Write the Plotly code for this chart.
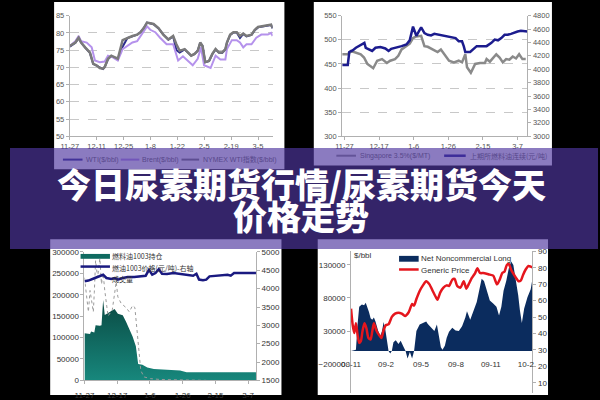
import plotly.graph_objects as go

# ---------------- DATA ----------------
# Panel 1 (top-left): crude prices, x = days after 11-27
p1_tick_days = [0, 14, 28, 42, 56, 70, 84, 98]
p1_tick_text = ["11-27", "12-11", "12-25", "1-8", "1-22", "2-5", "2-19", "3-5"]
p1_days = [0, 2.9, 4.6, 5.9, 8, 10.5, 12.2, 13.9, 15.6, 17.3, 18.2, 19.9, 21.6, 23.3, 25, 27.5, 30, 32.6, 35.1, 36.8,
           38.5, 40.2, 41.9, 43.6, 46.2, 48.7, 51.3, 53.8, 55.5, 57.2, 59.8, 61.5, 63.2, 64.9, 66.6, 67.9, 69.1, 70.5, 72.5, 74.2,
           75.9, 77.6, 79.3, 81, 81.8, 83.5, 85.2, 86.9, 88.6, 90.3, 92, 94.6, 96.3, 98, 100.5, 103, 104.8, 105.6]
p1_nymex = [76.2, 77.2, 78.6, 77.2, 75.8, 74.3, 71.0, 70.6, 69.8, 69.6, 70.1, 72.5, 73.4, 72.9, 72.5, 77.9, 78.6, 79.1, 79.5, 80.2,
            81.4, 83.0, 82.8, 82.6, 81.4, 79.5, 78.1, 79.1, 76.7, 74.8, 75.3, 74.3, 73.4, 73.9, 74.8, 77.2, 76.2, 71.5, 71.9, 73.9,
            75.3, 74.3, 74.3, 75.3, 77.2, 79.5, 80.2, 80.2, 79.1, 79.8, 79.1, 79.5, 80.9, 81.7, 81.9, 82.1, 82.4, 81.4]
p1_wti = [76.0, 77.1, 78.5, 77.2, 75.7, 74.2, 71.0, 70.5, 69.8, 69.5, 70.1, 72.4, 73.3, 72.9, 72.3, 76.0, 78.5, 79.0, 79.5, 80.2,
          81.3, 83.0, 82.7, 82.5, 81.3, 79.5, 78.0, 79.0, 75.0, 74.3, 75.2, 74.2, 73.4, 73.8, 74.8, 77.1, 76.2, 71.5, 71.8, 73.8,
          75.2, 74.3, 74.2, 75.2, 77.1, 79.4, 80.1, 80.1, 78.5, 79.7, 79.0, 79.4, 80.8, 81.6, 81.8, 82.0, 82.3, 81.3]
p1_brent_days = [0, 2.9, 4.6, 5.9, 8.8, 11.4, 13.1, 15.6, 18.2, 19.9, 22.4, 25, 27.5, 30.1, 32.6, 35.1, 36.8, 38.5, 40.2, 41.9,
                 44.5, 47, 50.4, 53.8, 56.4, 58.9, 61.5, 64, 66.6, 68.3, 69.9, 73.3, 75.9, 78.4, 81, 81.8, 84.4, 86.9, 88.6, 90.3,
                 92, 94.6, 97.1, 99.7, 103.1, 104.8, 105.6]
p1_brent = [76.2, 77.6, 79.1, 77.6, 77.2, 75.8, 72.0, 71.5, 71.7, 73.4, 72.9, 72.0, 75.3, 76.2, 77.2, 77.6, 79.1, 80.5, 81.9, 80.9,
            80.2, 78.6, 76.7, 76.7, 72.0, 73.2, 72.0, 70.6, 72.5, 75.8, 70.6, 69.8, 73.4, 72.3, 72.3, 75.3, 77.9, 77.9, 77.2, 75.8,
            76.7, 76.7, 78.6, 79.5, 79.5, 80.0, 79.1]

# Panel 2 (top-right): fuel oil, x = days after 11-27
p2_tick_days = [0, 20, 40, 60, 80, 100]
p2_tick_text = ["11-27", "12-17", "1-6", "1-26", "2-15", "3-7"]
p2_sh_days = [-1.3, 1.9, 2.8, 4.7, 6.6, 8.5, 10.4, 11.5, 12.3, 14.2, 16.0, 17.9, 20.8, 23.6, 25.5, 27.0, 30.2, 33.0, 35.8, 37.7,
              39.6, 41.5, 44.3, 46.2, 48.1, 50.0, 51.9, 53.8, 56.6, 59.4, 62.3, 64.2, 66.0, 67.9, 68.9, 69.8, 72.6, 74.5, 76.4, 79.2,
              82.1, 84.9, 86.8, 88.7, 90.6, 92.5, 94.3, 96.2, 98.1, 100.0, 101.9, 103.8, 105.7]
p2_shanghai = [4065, 4065, 4258, 4282, 4321, 4345, 4369, 4394, 4321, 4297, 4273, 4321, 4331, 4311, 4273, 4306, 4321, 4345, 4369, 4432,
               4636, 4500, 4626, 4539, 4515, 4505, 4529, 4519, 4500, 4481, 4466, 4466, 4418, 4418, 4345, 4258, 4258, 4297, 4345, 4345,
               4345, 4394, 4442, 4432, 4466, 4515, 4515, 4529, 4548, 4563, 4573, 4563, 4563]
p2_sg_days = [-1.3, 1.9, 3.8, 5.7, 7.5, 9.4, 11.3, 13.2, 15.1, 16.6, 18.9, 21.7, 24.5, 26.4, 29.2, 31.1, 33.0, 35.8, 37.7, 39.6,
              41.5, 44.3, 46.2, 48.1, 50.9, 53.8, 55.7, 57.5, 60.4, 63.2, 66.0, 67.9, 69.8, 70.8, 73.0, 75.5, 78.3, 81.1, 82.1, 84.0,
              85.8, 87.7, 89.6, 91.5, 93.4, 95.3, 97.2, 99.1, 100.9, 102.8, 104.7]
p2_singapore = [470, 470, 476.7, 474.7, 472, 470, 463.3, 450, 445, 441, 456.6, 460, 452, 456.6, 460, 466.7, 480, 488, 492, 503.6,
                507, 508.3, 486.8, 485.5, 480, 474.7, 480, 470, 456.6, 453.2, 456.6, 453.2, 470, 443.1, 431.7, 450, 452, 452, 460, 454.6,
                463.3, 470, 463.3, 453.2, 460, 458.6, 465.3, 461.3, 470, 460, 460]

# Panel 3 (bottom-left): fuel oil 1003 open interest / price / volume
p3_tick_days = [0, 20, 40, 60, 80, 100]
p3_tick_text = ["11-27", "12-17", "1-6", "1-26", "2-15", "3-7"]
p3_oi_days = [0, 3.4, 4.0, 6.0, 6.8, 9.4, 10.4, 11.4, 12.4, 14.4, 16.4, 18.4, 20.4, 23.4, 25.4, 27.4, 29.4, 31.4, 32.8, 35.4,
              38.4, 42.4, 48.4, 54.4, 58.4, 62.4, 66.4, 74.4, 104.8]
p3_open_interest = [110000, 108600, 114000, 112000, 129000, 127600, 129000, 188000, 153000, 158000, 163000, 167000, 155700, 152000,
                    136700, 121500, 102500, 80000, 38000, 36500, 30000, 26600, 25000, 24300, 22800, 19000, 19000, 19000, 19000]
p3_px_days = [0, 2.4, 6.4, 9.4, 11.4, 13.4, 16.4, 18.4, 20.4, 23.4, 26.4, 30.4, 34.4, 37.4, 39.4, 41.4, 43.4, 45.4, 47.4, 50.4,
              54.4, 58.4, 63.4, 66.4, 68.4, 70.0, 72.4, 74.4, 76.4, 80.4, 84.4, 87.4, 89.4, 91.4, 94.4, 104.8]
p3_price = [4202, 4220, 4291, 4335, 4380, 4291, 4264, 4291, 4247, 4291, 4318, 4318, 4335, 4353, 4513, 4380, 4424, 4530, 4406, 4397,
            4424, 4406, 4380, 4353, 4406, 4247, 4229, 4247, 4335, 4353, 4353, 4380, 4353, 4424, 4424, 4424]
p3_vol_days = [0, 1.4, 2.4, 3.4, 4.4, 5.4, 6.0, 6.8, 8.0, 9.4, 10.4, 11.4, 12.4, 14.4, 17.0, 19.4, 20.4, 22.4, 25.4, 27.4,
               29.4, 30.8, 32.4, 34.4, 36.4, 40.4, 46.4, 54.4, 66.4, 74.4]
p3_volume = [240000, 200000, 160000, 210000, 185000, 160000, 205000, 280000, 240000, 285000, 225000, 250000, 210000, 150000,
             165000, 230000, 195000, 180000, 170000, 160000, 175000, 170000, 105000, 23000, 8000, 4000, 2000, 1500, 0, 0]

# Panel 4 (bottom-right): net noncommercial long vs generic price, x = months after 2008-11
p4_tick_months = [0, 3, 6, 9, 12, 15]
p4_tick_text = ["08-11", "09-2", "09-5", "09-8", "09-11", "10-2"]
p4_net_months = [0, 0.42, 0.56, 0.70, 0.93, 1.12, 1.26, 1.40, 1.54, 1.68, 1.82, 1.96, 2.10, 2.33, 2.52, 2.66, 2.80, 2.94, 3.08, 3.22,
                 3.36, 3.50, 3.64, 3.84, 4.07, 4.26, 4.49, 4.68, 4.85, 5.05, 5.24, 5.41, 5.61, 5.89, 6.17, 6.45, 6.59, 6.87, 7.15, 7.37,
                 7.57, 7.71, 7.85, 8.05, 8.21, 8.41, 8.69, 8.97, 9.25, 9.53, 9.81, 9.95, 10.23, 10.51, 10.79, 11.02, 11.21, 11.41, 11.63, 11.91,
                 12.20, 12.48, 12.70, 12.90, 13.09, 13.32, 13.54, 13.74, 13.93, 14.16, 14.35, 14.49, 14.66, 14.86, 15.14, 15.42, 15.56]
p4_net_long = [0, 1700, 40000, 66600, 70000, 69000, 73000, 66600, 59000, 49500, 47000, 50500, 44600, 30000, 22700, 30000, 43700, 32400, 17800, 0,
               -4000, 0, 13000, 16300, 10500, 15400, 6600, 0, -11500, -1700, -11500, 0, 30000, 39800, 42200, 44600, 40700, 34900, 30000, 39800,
               17800, 5600, 1700, 8000, 20000, 29000, 34900, 31000, 30000, 37300, 50500, 60000, 47000, 61700, 73900, 93400, 109000, 105600, 91000, 76400,
               71500, 66600, 53400, 66600, 91000, 105600, 125000, 135000, 130000, 108000, 83700, 61700, 42200, 64000, 81000, 93400, 108000]
p4_px_months = [0, 0.14, 0.28, 0.42, 0.56, 0.70, 0.84, 0.98, 1.15, 1.32, 1.49, 1.68, 1.82, 1.96, 2.16, 2.38, 2.61, 2.80, 3.00, 3.22,
                3.50, 3.78, 4.07, 4.35, 4.63, 4.96, 5.24, 5.41, 5.61, 5.89, 6.17, 6.45, 6.73, 7.01, 7.29, 7.43, 7.65, 7.93, 8.21, 8.41,
                8.69, 8.89, 9.11, 9.39, 9.67, 9.90, 10.09, 10.37, 10.65, 10.85, 11.07, 11.35, 11.63, 11.91, 12.20, 12.53, 12.76, 12.98, 13.18, 13.37,
                13.54, 13.74, 13.93, 14.16, 14.38, 14.58, 14.77, 15.00, 15.22, 15.42, 15.56]
p4_generic_price = [55.1, 45.2, 40.3, 46.2, 39.3, 34.3, 35.3, 41.3, 46.2, 43.2, 37.3, 36.3, 41.3, 46.2, 42.2, 39.3, 37.3, 42.2, 45.2, 45.6,
                    50.1, 52.1, 52.7, 52.1, 50.7, 53.1, 58.0, 57.0, 61.0, 65.9, 69.3, 71.8, 69.9, 65.9, 62.0, 60.6, 64.9, 67.9, 69.3, 68.9,
                    72.8, 73.2, 68.9, 67.9, 71.8, 67.3, 69.9, 73.8, 76.8, 79.7, 76.8, 76.8, 76.4, 75.8, 75.2, 69.9, 72.8, 76.8, 77.8, 81.7,
                    82.3, 78.8, 76.4, 73.8, 71.8, 72.4, 75.8, 79.1, 81.1, 80.7, 80.3]

title_line1 = "今日尿素期货行情/尿素期货今天"
title_line2 = "价格走势"

# ---------------- helpers (pixel -> paper) ----------------
W, H = 600, 400
def px(x):
    return x / W
def py(y):
    return 1 - y / H

LAT = "Liberation Sans, Arial, sans-serif"
CJK = "Noto Sans CJK SC, sans-serif"

fig = go.Figure()

# Panel 1 traces
fig.add_trace(go.Scatter(x=p1_days, y=p1_wti, mode="lines", line=dict(color="#2b2b8c", width=2), xaxis="x", yaxis="y"))
fig.add_trace(go.Scatter(x=p1_brent_days, y=p1_brent, mode="lines", line=dict(color="#b592ec", width=2), xaxis="x", yaxis="y"))
fig.add_trace(go.Scatter(x=p1_days, y=p1_nymex, mode="lines", line=dict(color="#7a7a7a", width=2.5), xaxis="x", yaxis="y"))

# Panel 2 traces
fig.add_trace(go.Scatter(x=p2_sg_days, y=p2_singapore, mode="lines", line=dict(color="#8a8a8a", width=2.5), xaxis="x2", yaxis="y2"))
fig.add_trace(go.Scatter(x=p2_sh_days, y=p2_shanghai, mode="lines", line=dict(color="#1c1c8e", width=2.5), xaxis="x2", yaxis="y3"))

# Panel 3 traces
fig.add_trace(go.Scatter(x=p3_oi_days, y=p3_open_interest, mode="lines", line=dict(width=0, color="#137a70"), fill="tozeroy",
                         fillgradient=dict(type="vertical", colorscale=[[0, "#188a7f"], [1, "#0a4a43"]], start=0, stop=190000),
                         xaxis="x3", yaxis="y4"))
fig.add_trace(go.Scatter(x=p3_vol_days, y=p3_volume, mode="lines", line=dict(color="#9a9a9a", width=1, dash="dot"), xaxis="x3", yaxis="y4"))
fig.add_trace(go.Scatter(x=p3_px_days, y=p3_price, mode="lines", line=dict(color="#1a1a80", width=2.5), xaxis="x3", yaxis="y5"))

# Panel 4 traces
fig.add_trace(go.Scatter(x=p4_net_months, y=p4_net_long, mode="lines", line=dict(width=0, color="#0b2c5e"), fill="tozeroy",
                         fillcolor="#0b2c5e", xaxis="x4", yaxis="y6"))
fig.add_trace(go.Scatter(x=p4_px_months, y=p4_generic_price, mode="lines", line=dict(color="#e5161d", width=2.5, shape="spline", smoothing=0.6),
                         xaxis="x4", yaxis="y7"))

tick7 = dict(family=LAT, size=7.5, color="#555")
tick8 = dict(family=LAT, size=8, color="#333")
base = dict(showgrid=False, zeroline=False, showline=True, linecolor="#b0b0b0", linewidth=1, ticks="outside", ticklen=3, tickcolor="#b0b0b0")

p1_dom_y = [py(136), py(12)]
p3_dom_y = [py(387), py(255)]
p4_dom_y = [0, py(254)]

fig.update_layout(
    width=W, height=H, margin=dict(l=0, r=0, t=0, b=0),
    paper_bgcolor="black", plot_bgcolor="rgba(0,0,0,0)", showlegend=False,
    xaxis=dict(base, domain=[px(61), px(268)], range=[0, 105.6], anchor="y", tickvals=p1_tick_days, ticktext=p1_tick_text, tickfont=tick7),
    yaxis=dict(base, domain=p1_dom_y, range=[50, 85], anchor="x", dtick=5, showgrid=True, gridcolor="#c8c8c8", griddash="dash", gridwidth=1, tickfont=tick7),
    xaxis2=dict(base, domain=[px(339), px(528)], range=[-1.3, 105.7], anchor="y2", tickvals=p2_tick_days, ticktext=p2_tick_text, tickfont=tick7),
    yaxis2=dict(base, domain=p1_dom_y, range=[300, 550], anchor="x2", dtick=50, showgrid=True, gridcolor="#c8c8c8", griddash="dash", tickfont=tick7),
    yaxis3=dict(base, range=[3000, 4800], overlaying="y2", anchor="x2", side="right", dtick=200, tickfont=tick7),
    xaxis3=dict(base, domain=[px(76), px(251)], range=[0, 104.8], anchor="y4", tickvals=p3_tick_days, ticktext=p3_tick_text, tickfont=tick8,
                ticklabelstandoff=4),
    yaxis4=dict(base, domain=p3_dom_y, range=[0, 300000], anchor="x3", dtick=50000, tickformat="d", tickfont=tick8),
    yaxis5=dict(base, range=[1500, 5000], overlaying="y4", anchor="x3", side="right", dtick=500, tickformat="d", tickfont=tick8),
    xaxis4=dict(domain=[px(348), px(533)], range=[0, 15.56], anchor="free", position=py(356.7), showline=False, showgrid=False, zeroline=False,
                ticks="", tickvals=p4_tick_months, ticktext=p4_tick_text, tickfont=tick8, ticklabelstandoff=7),
    yaxis6=dict(base, domain=p4_dom_y, range=[-63600, 151000], anchor="x4", tickvals=[-20000, 30000, 80000, 130000], tickformat="d", tickfont=tick8),
    yaxis7=dict(base, range=[3.8, 90.2], overlaying="y6", anchor="x4", side="right", tickvals=[10, 20, 30, 40, 50, 60, 70, 80, 90], tickfont=tick8),
)

shapes = []
def rect(x0, y0, x1, y1, color, layer="below"):
    shapes.append(dict(type="rect", xref="paper", yref="paper", x0=px(x0), x1=px(x1), y0=py(y1), y1=py(y0),
                       fillcolor=color, line=dict(width=0), layer=layer))
def keyline(x0, x1, y, color, width, dash="solid"):
    shapes.append(dict(type="line", xref="paper", yref="paper", x0=px(x0), x1=px(x1), y0=py(y), y1=py(y),
                       line=dict(color=color, width=width, dash=dash), layer="above"))

# white chart cards
rect(45, -2, 280, 170, "white")
rect(310, -2, 553, 166, "white")
rect(41, 242, 277, 402, "white")
rect(314, 242, 549, 402, "white")

# legend keys
keyline(54, 74, 160, "#2b2b8c", 2)
keyline(113, 132, 160, "#b592ec", 2)
keyline(175, 193, 160, "#7a7a7a", 2)
keyline(333, 353, 156, "#8a8a8a", 2)
keyline(443, 465, 156, "#1c1c8e", 2.5)
rect(72, 257, 102, 262, "#0f6a60", layer="above")
keyline(72, 102, 270, "#1a1a80", 2.5)
rect(397, 259, 417, 265, "#0b2c5e", layer="above")
keyline(397, 417, 273, "#e5161d", 2.5)

# translucent purple banner
rect(0, 148, 600, 252, "rgba(79,55,159,0.66)", layer="above")
fig.update_layout(shapes=shapes)

anns = []
def txt(x, y, s, size, color, family=LAT, anchor="left", weight="normal"):
    anns.append(dict(xref="paper", yref="paper", x=px(x), y=py(y), text=s, showarrow=False,
                     xanchor=anchor, yanchor="middle", font=dict(family=family, size=size, color=color, weight=weight)))

tint = "#57478b"
txt(76, 160, "WTI($/bbl)", 7, tint)
txt(133, 160, "Brent($/bbl)", 7, tint)
txt(195, 160, "NYMEX WTI指数($/bbl)", 7, tint, family=LAT + ", " + CJK)
txt(355, 156, "Singapore 3.5%($/MT)", 7, tint)
txt(467, 156, "上期所燃料油连续(元/吨)", 7, tint, family=CJK)
txt(102, 259, "燃料油1003持仓", 7, "#333", family=CJK)
txt(102, 271, "燃油1003价格(元/吨)-右轴", 7, "#333", family=CJK)
txt(102, 283, "成交量", 7, "#333", family=CJK)
txt(417, 262, "Net Noncommercial Long", 8, "#333")
txt(417, 274, "Generic Price", 8, "#333")
txt(349, 259, "$/bbl", 8, "#333")
txt(297, 185, title_line1, 34, "white", family=CJK, anchor="center", weight=900)
txt(297, 217, title_line2, 34, "white", family=CJK, anchor="center", weight=900)
fig.update_layout(annotations=anns)

fig.write_html("out.html", default_width="600px", default_height="400px", config={"displayModeBar": False},
               post_script="document.body.style.margin='0';document.body.style.padding='0';document.body.style.overflow='hidden';")
